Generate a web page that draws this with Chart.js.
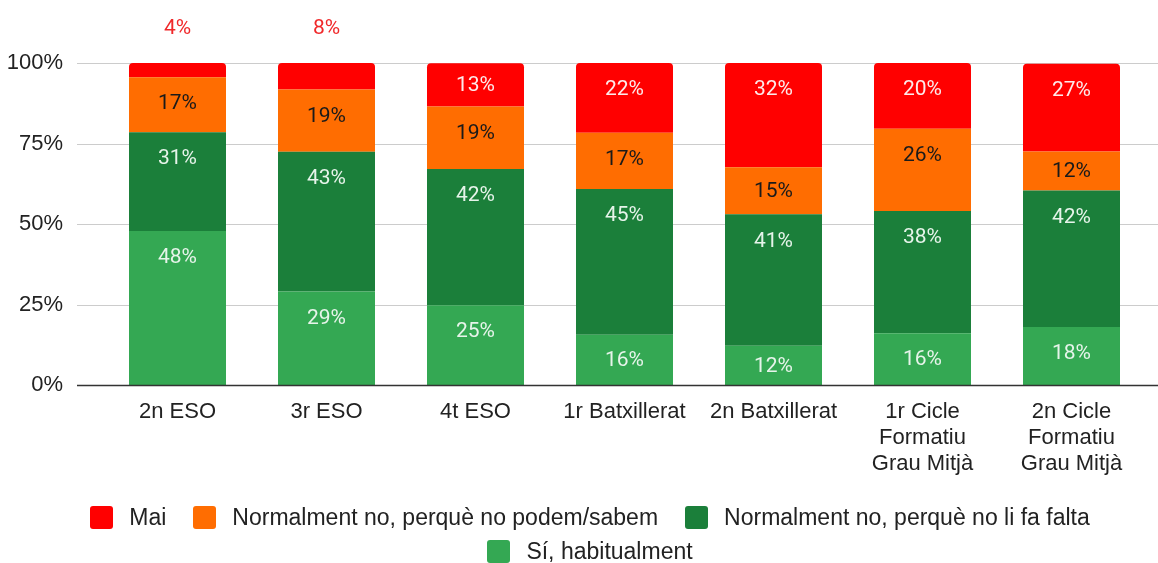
<!DOCTYPE html>
<html>
<head>
<meta charset="utf-8">
<script src="https://cdn.jsdelivr.net/npm/chart.js@4.4.1/dist/chart.umd.min.js"></script>
<style>
  html, body { margin: 0; padding: 0; background: #fff; }
  #wrap { position: relative; width: 1158px; height: 563px; }
  #legend {
    position: absolute; left: 20px; width: 1140px; top: 500px;
    display: flex; flex-wrap: wrap; justify-content: center; column-gap: 27px;
    font: 23px "Liberation Sans", Arial, sans-serif; color: #222;
  }
  .item { display: flex; align-items: center; height: 34px; }
  .box { width: 23px; height: 23px; border-radius: 3px; margin-right: 16px; }
</style>
</head>
<body>
<div id="wrap">
  <canvas id="chart" width="1158" height="563"></canvas>
  <div id="legend"></div>
</div>
<script>
// categories and series (percentages per course)
const categories = [
  "2n ESO", "3r ESO", "4t ESO", "1r Batxillerat", "2n Batxillerat",
  ["1r Cicle", "Formatiu", "Grau Mitjà"], ["2n Cicle", "Formatiu", "Grau Mitjà"]
];
const siHabitualment = [47.8, 29.0, 24.8, 15.6, 12.2, 16.1, 18.0];
const noLiFaFalta = [30.7, 43.4, 42.3, 45.3, 40.8, 37.9, 42.4];
const noPodemSabem = [17.1, 19.4, 19.4, 17.4, 14.6, 25.6, 12.1];
const mai = [4.4, 8.2, 13.4, 21.7, 32.4, 20.4, 27.3];
const yTicks = [0, 25, 50, 75, 100];

const seriesNames = [
  "Sí, habitualment",
  "Normalment no, perquè no li fa falta",
  "Normalment no, perquè no podem/sabem",
  "Mai"
];
const seriesColors = ["#34a853", "#1b7f3a", "#ff6d01", "#ff0000"];
const labelColors = ["#e6f4ea", "#e6f4ea", "#1a1a1a", "#fdeaea"];

// horizontal gridlines wider than the plot area, like the original
const gridLines = {
  id: "gridLines",
  beforeDatasetsDraw(chart) {
    const ctx = chart.ctx, y = chart.scales.y;
    ctx.save();
    ctx.strokeStyle = "#cccccc";
    ctx.lineWidth = 1;
    yTicks.forEach((v) => {
      if (v === 0) return;
      const py = Math.round(y.getPixelForValue(v)) + 0.5;
      ctx.beginPath();
      ctx.moveTo(77, py);
      ctx.lineTo(chart.width, py);
      ctx.stroke();
    });
    ctx.restore();
  },
  afterDatasetsDraw(chart) {
    const ctx = chart.ctx, y = chart.scales.y;
    const py = Math.round(y.getPixelForValue(0)) + 0.5;
    ctx.save();
    ctx.strokeStyle = "#333333";
    ctx.lineWidth = 1.5;
    ctx.beginPath();
    ctx.moveTo(77, py);
    ctx.lineTo(chart.width, py);
    ctx.stroke();
    ctx.restore();
  }
};

// value labels inside the segments, or above the bar if the segment is too small
const barLabels = {
  id: "barLabels",
  afterDatasetsDraw(chart) {
    const ctx = chart.ctx;
    ctx.save();
    ctx.font = "21px Roboto";
    ctx.textAlign = "center";
    ctx.textBaseline = "middle";
    chart.data.datasets.forEach((ds, i) => {
      chart.getDatasetMeta(i).data.forEach((bar, j) => {
        const top = bar.y, bottom = bar.base;
        const txt = Math.round(ds.data[j]) + "%";
        if (bottom - top < 30) {
          ctx.fillStyle = "#f0282a";
          ctx.fillText(txt, bar.x, chart.chartArea.top - 34);
        } else {
          ctx.fillStyle = labelColors[i];
          ctx.fillText(txt, bar.x, Math.min(top + 27, (top + bottom) / 2 + 1));
        }
      });
    });
    ctx.restore();
  }
};

const seriesData = [siHabitualment, noLiFaFalta, noPodemSabem, mai];

const ctx = document.getElementById("chart").getContext("2d");
const chart = new Chart(ctx, {
  type: "bar",
  data: {
    labels: categories,
    datasets: seriesData.map((d, i) => ({
      label: seriesNames[i],
      data: d,
      backgroundColor: seriesColors[i],
      borderWidth: 0,
      borderSkipped: false,
      borderRadius: i === 3 ? { topLeft: 4, topRight: 4, bottomLeft: 0, bottomRight: 0 } : 0,
      barPercentage: 0.651,
      categoryPercentage: 1
    }))
  },
  options: {
    responsive: false,
    animation: false,
    layout: { padding: { top: 63, right: 12, left: 0, bottom: 0 } },
    plugins: {
      legend: { display: false },
      tooltip: { enabled: false }
    },
    scales: {
      x: {
        stacked: true,
        grid: { display: false, drawTicks: false },
        border: { display: false },
        ticks: {
          color: "#222",
          padding: 14,
          maxRotation: 0,
          autoSkip: false,
          font: { family: "'Liberation Sans', Arial, sans-serif", size: 22, lineHeight: "26px" }
        },
        afterFit(scale) { scale.height = 178; }
      },
      y: {
        stacked: true,
        min: 0,
        max: 100,
        grid: { display: false, drawTicks: false },
        border: { display: false },
        afterBuildTicks(scale) { scale.ticks = yTicks.map((v) => ({ value: v })); },
        ticks: {
          color: "#222",
          padding: 40,
          callback: (v) => v + "%",
          font: { family: "'Liberation Sans', Arial, sans-serif", size: 22 }
        },
        afterFit(scale) { scale.width = 103; }
      }
    }
  },
  plugins: [gridLines, barLabels]
});

// legend in the original order (top series first)
const legend = document.getElementById("legend");
[3, 2, 1, 0].forEach((i) => {
  const item = document.createElement("div");
  item.className = "item";
  item.innerHTML = '<span class="box" style="background:' + seriesColors[i] + '"></span><span>' + seriesNames[i] + "</span>";
  legend.appendChild(item);
});
</script>
</body>
</html>
